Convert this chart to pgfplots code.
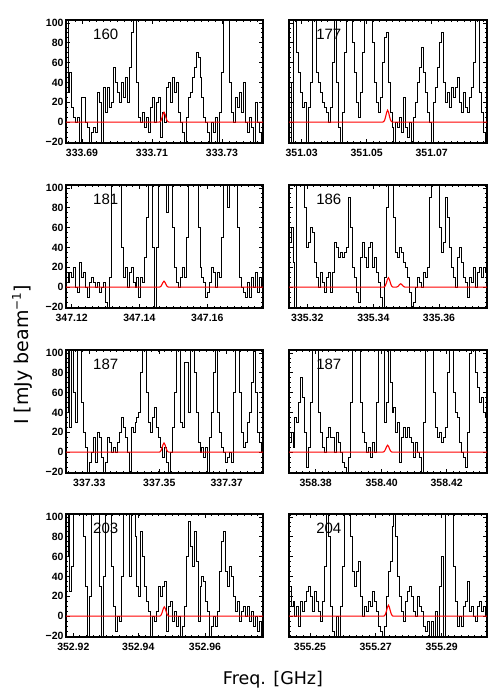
\documentclass[border=0pt]{standalone}
\usepackage{fontspec}
\setmainfont{Liberation Sans}
\newfontfamily\dejavu{DejaVu Sans}
\usepackage{pgfplots}
\usepackage{pgfplotstable}
\pgfplotsset{compat=1.18}

% spectra, one column per panel, 100 channels each (mJy/beam)
\pgfplotstableread{
p1 p2 p3 p4 p5 p6 p7 p8
110 40 15 45 40 10 60 30
30 -20 5 60 110 20 110 10
50 110 15 25 25 5 25 15
15 110 10 -25 110 35 50 0
5 70 20 110 60 30 110 10
0 50 0 110 30 50 110 -10
5 30 -5 110 110 75 110 15
-25 15 25 110 110 55 110 5
25 20 10 80 50 20 110 15
25 -25 15 40 20 -15 80 25
0 15 0 45 5 5 30 30
-5 40 -10 60 -20 50 -25 20
-25 110 5 55 -10 110 20 5
-10 110 10 25 0 110 110 25
-5 50 5 10 15 110 110 15
-10 40 0 0 -10 40 110 5
30 30 5 15 20 20 110 -5
20 20 -5 5 15 5 30 15
-25 15 0 -5 -5 0 -25 50
35 10 5 10 -20 15 40 110
10 0 -15 15 -10 25 110 80
35 15 -25 -5 15 15 110 10
15 60 10 15 10 15 110 -15
20 110 110 45 0 0 50 -20
55 40 110 40 5 20 10 0
40 -5 110 30 0 10 -15 -25
30 -25 110 35 10 0 0 10
20 10 110 30 20 -10 -5 50
40 70 40 35 35 -15 40 110
25 110 10 40 25 -20 110 110
45 110 20 90 15 -5 110 110
20 110 0 60 0 50 110 80
55 80 15 20 -20 110 40 45
90 50 20 10 25 110 110 30
110 20 5 -5 20 110 110 45
110 5 0 -15 30 110 80 55
40 30 10 30 35 50 30 20
5 70 -10 45 40 20 20 0
0 110 10 30 80 10 85 10
10 110 5 20 110 0 60 5
-5 110 30 40 110 5 30 15
5 110 70 45 60 -5 15 10
-10 80 110 20 30 10 5 25
15 40 110 30 20 0 -20 15
25 20 40 15 35 50 0 5
0 10 -20 5 45 110 -5 -10
20 25 40 -10 25 110 5 -15
25 60 110 -25 15 110 30 -20
-15 85 110 10 5 30 20 -10
10 90 110 80 -5 50 30 20
0 40 110 110 5 110 35 45
35 10 75 110 -10 70 -15 55
40 -5 110 110 -20 40 10 90
20 -20 110 70 0 45 15 110
45 0 60 35 25 20 -5 80
30 -5 20 30 60 30 5 40
40 5 5 40 110 -10 -10 20
10 -10 0 35 110 15 0 5
0 25 10 25 30 25 -20 -5
-10 -5 20 20 25 15 -10 15
-25 -15 10 10 90 25 10 25
5 0 50 -5 90 15 60 30
25 -25 110 -25 40 10 95 20
30 5 110 -15 110 -5 70 5
45 20 110 0 110 10 50 0
55 40 110 10 80 0 85 20
70 55 110 5 40 -5 55 10
65 75 60 0 10 -20 -5 5
45 50 20 15 0 30 30 -10
25 30 10 10 5 110 40 -15
5 10 5 20 -5 110 35 -5
0 0 -10 90 5 110 15 -20
-10 -25 -5 110 -20 110 5 -5
-25 20 5 110 15 60 -20 -20
0 35 20 110 40 25 -10 5
-10 55 15 110 80 15 0 -25
5 80 0 60 110 20 -10 30
-25 90 15 35 40 10 5 60
10 40 10 45 20 15 45 -25
50 20 50 90 5 25 75 110
110 30 110 70 0 80 85 110
110 15 110 40 -10 110 45 110
110 35 80 20 -5 110 30 110
40 25 110 10 0 60 50 50
10 35 110 0 -10 40 40 15
0 45 110 30 60 35 20 -10
25 20 110 40 110 10 5 0
15 10 60 25 110 0 15 -10
30 30 10 10 60 -5 -5 10
10 15 0 5 20 -15 5 15
40 10 -5 -10 5 20 10 35
0 25 -10 10 10 100 0 5
-10 35 5 5 30 110 10 10
5 60 -10 20 40 110 -5 0
-5 110 10 0 70 80 5 -5
-20 110 0 15 110 65 -10 10
20 30 15 20 60 50 0 15
0 10 -5 10 20 55 -15 5
-10 -10 10 20 10 40 -5 10
-20 -20 0 15 0 35 -20 0
}\spectra

\pgfplotsset{
  panel/.style={
    scale only axis, width=197pt, height=123pt, anchor=south west,
    xmin=-0.5, xmax=99.5, ymin=-21, ymax=103,
    ytick={-20,0,...,100}, minor y tick num=3,
    yticklabels={−20,0,20,40,60,80,100},
    tick align=inside, major tick length=4pt, minor tick length=2pt,
    axis line style={line width=1.2pt},
    every tick/.style={black, line width=0.8pt},
    tick label style={font=\fontsize{10.5}{11}\selectfont\bfseries},
    yticklabel style={xshift=1pt},
    xticklabel style={yshift=-2.5pt},
  },
  rightcol/.style={width=198pt, yticklabels={}},
  spec/.style={black, line width=0.9pt, const plot mark mid, no marks},
  model/.style={red, line width=1.1pt, no marks},
}
\tikzset{src/.style={anchor=north west, font=\fontsize{15}{15}\selectfont}}

\begin{document}
\begin{tikzpicture}
\useasboundingbox (0pt,0pt) rectangle (500pt,700pt);

% row 1
\begin{axis}[panel, at={(66pt,557pt)},
  xtick={7.62,43.15,78.69}, xticklabels={333.69,333.71,333.73},
  minor xtick={0.514,4.067,...,99.5}]
\addplot[spec] table[x expr=\coordindex, y=p1] {\spectra};
\addplot[model] coordinates {(-0.5,0) (46.75,0) (47.25,0.4) (47.75,1.7) (48.25,4.6) (48.75,8.2) (49.25,10) (49.75,8.2) (50.25,4.6) (50.75,1.7) (51.25,0.4) (51.75,0) (99.5,0)};
\node[src] at (rel axis cs:0.12,0.955) {160};
\end{axis}

\begin{axis}[panel, rightcol, at={(289pt,557pt)},
  xtick={5.91,38.74,71.57}, xticklabels={351.03,351.05,351.07},
  minor xtick={2.627,5.91,...,99.5}]
\addplot[spec] table[x expr=\coordindex, y=p2] {\spectra};
\addplot[model] coordinates {(-0.5,0) (46.8,0) (47.3,0.5) (47.8,2.0) (48.3,5.5) (48.8,9.8) (49.3,12) (49.8,9.8) (50.3,5.5) (50.8,2.0) (51.3,0.5) (51.8,0) (99.5,0)};
\node[src] at (rel axis cs:0.12,0.955) {177};
\end{axis}

% row 2
\begin{axis}[panel, at={(66pt,392pt)},
  xtick={2.39,36.71,71.22}, xticklabels={347.12,347.14,347.16},
  minor xtick={2.39,5.832,...,99.5}]
\addplot[spec] table[x expr=\coordindex, y=p3] {\spectra};
\addplot[model] coordinates {(-0.5,0) (46.75,0) (47.25,0.25) (47.75,1.0) (48.25,2.8) (48.75,4.9) (49.25,6) (49.75,4.9) (50.25,2.8) (50.75,1.0) (51.25,0.25) (51.75,0) (99.5,0)};
\node[src] at (rel axis cs:0.12,0.955) {181};
\end{axis}

\begin{axis}[panel, rightcol, at={(289pt,392pt)},
  xtick={8.74,42.08,75.26}, xticklabels={335.32,335.34,335.36},
  minor xtick={2.088,5.414,...,99.5}]
\addplot[spec] table[x expr=\coordindex, y=p4] {\spectra};
\addplot[model] coordinates {(-0.5,0) (47.2,0) (47.7,0.4) (48.2,1.6) (48.7,4.4) (49.2,7.8) (49.7,9.5) (50.2,7.8) (50.7,4.4) (51.2,1.6) (51.7,0.4) (52.2,0) (53.4,0) (53.9,0.14) (54.4,0.58) (54.9,1.56) (55.4,2.8) (55.9,3.4) (56.4,2.8) (56.9,1.56) (57.4,0.58) (57.9,0.14) (58.4,0) (99.5,0)};
\node[src] at (rel axis cs:0.12,0.955) {186};
\end{axis}

% row 3
\begin{axis}[panel, at={(66pt,227pt)},
  xtick={11.33,46.86,81.07}, xticklabels={337.33,337.35,337.37},
  minor xtick={0.869,4.356,...,99.5}]
\addplot[spec] table[x expr=\coordindex, y=p5] {\spectra};
\addplot[model] coordinates {(-0.5,0) (46.75,0) (47.25,0.37) (47.75,1.6) (48.25,4.3) (48.75,7.6) (49.25,9.3) (49.75,7.6) (50.25,4.3) (50.75,1.6) (51.25,0.37) (51.75,0) (99.5,0)};
\node[src] at (rel axis cs:0.12,0.955) {187};
\end{axis}

\begin{axis}[panel, rightcol, at={(289pt,227pt)},
  xtick={12.98,46.32,79.15}, xticklabels={358.38,358.40,358.42},
  minor xtick={-0.254,3.055,...,99.5}]
\addplot[spec] table[x expr=\coordindex, y=p6] {\spectra};
\addplot[model] coordinates {(-0.5,0) (46.8,0) (47.3,0.28) (47.8,1.2) (48.3,3.2) (48.8,5.7) (49.3,7) (49.8,5.7) (50.3,3.2) (50.8,1.2) (51.3,0.28) (51.8,0) (99.5,0)};
\node[src] at (rel axis cs:0.12,0.955) {187};
\end{axis}

% row 4
\begin{axis}[panel, at={(66pt,63pt)},
  xtick={3.21,36.2,70.06}, xticklabels={352.92,352.94,352.96},
  minor xtick={-0.13,3.21,...,99.5}]
\addplot[spec] table[x expr=\coordindex, y=p7] {\spectra};
\addplot[model] coordinates {(-0.5,0) (46.9,0) (47.4,0.38) (47.9,1.6) (48.4,4.3) (48.9,7.7) (49.4,9.4) (49.9,7.7) (50.4,4.3) (50.9,1.6) (51.4,0.38) (51.9,0) (99.5,0)};
\node[src] at (rel axis cs:0.12,0.955) {203};
\end{axis}

\begin{axis}[panel, rightcol, at={(289pt,63pt)},
  xtick={10.11,43.29,76.62}, xticklabels={355.25,355.27,355.29},
  minor xtick={0.133,3.459,...,99.5}]
\addplot[spec] table[x expr=\coordindex, y=p8] {\spectra};
\addplot[model] coordinates {(-0.5,0) (47.2,0) (47.7,0.44) (48.2,1.9) (48.7,5.1) (49.2,9.0) (49.7,11) (50.2,9.0) (50.7,5.1) (51.2,1.9) (51.7,0.44) (52.2,0) (99.5,0)};
\node[src] at (rel axis cs:0.12,0.955) {204};
\end{axis}

\node[font=\dejavu\fontsize{17.5}{18}\selectfont] at (273pt,20pt) {Freq. [GHz]};
\node[rotate=90, font=\dejavu\fontsize{19}{20}\selectfont] at (22pt,345pt)
  {I [mJy beam\raisebox{0.7ex}{\fontsize{12}{12}\selectfont −1}]};
\end{tikzpicture}
\end{document}
